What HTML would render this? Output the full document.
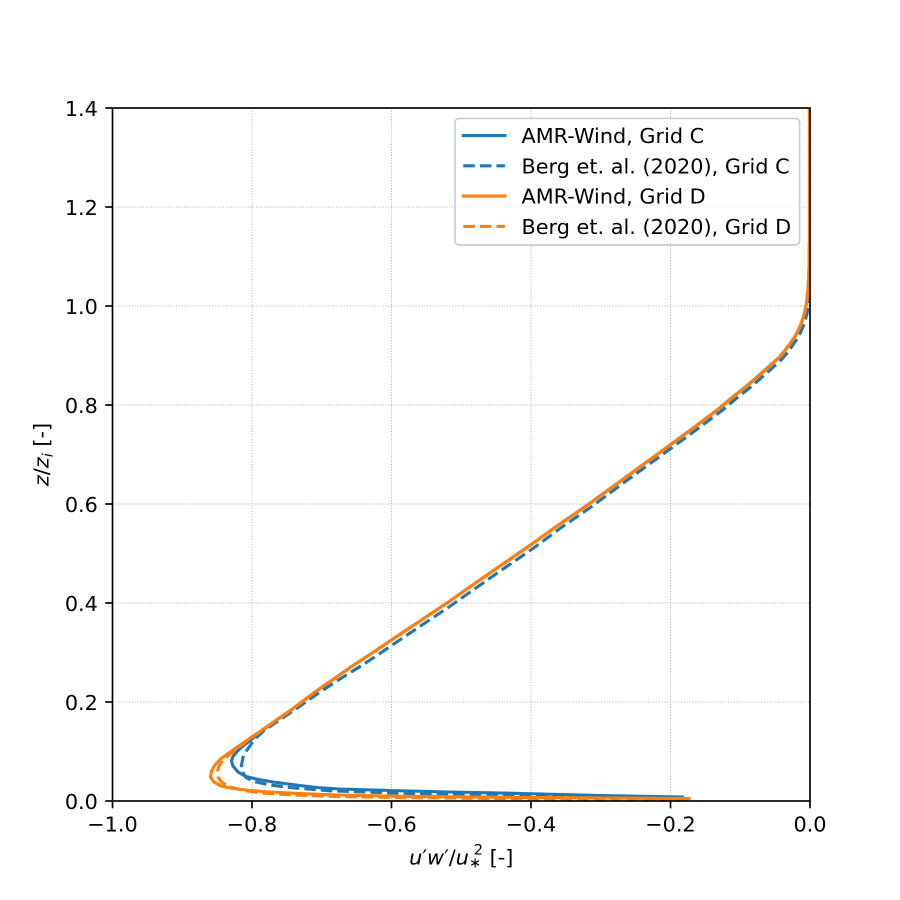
<!DOCTYPE html>
<html>
<head>
<meta charset="utf-8">
<style>
  html, body { margin: 0; padding: 0; background: #ffffff; }
  svg { display: block; }
  text { font-family: "DejaVu Sans", "Liberation Sans", sans-serif; fill: #000; }
</style>
</head>
<body>
<svg width="900" height="900" viewBox="0 0 900 900" xmlns="http://www.w3.org/2000/svg">
  <defs>
    <clipPath id="ax">
      <rect x="112.5" y="108" width="697.5" height="693"/>
    </clipPath>
  </defs>
  <rect x="0" y="0" width="900" height="900" fill="#ffffff"/>

  <!-- grid -->
  <g stroke="#b0b0b0" stroke-width="1.04" stroke-dasharray="1.04 1.72" fill="none">
    <line x1="252" y1="108" x2="252" y2="801"/>
    <line x1="391.5" y1="108" x2="391.5" y2="801"/>
    <line x1="531" y1="108" x2="531" y2="801"/>
    <line x1="670.5" y1="108" x2="670.5" y2="801"/>
    <line x1="112.5" y1="702" x2="810" y2="702"/>
    <line x1="112.5" y1="603" x2="810" y2="603"/>
    <line x1="112.5" y1="504" x2="810" y2="504"/>
    <line x1="112.5" y1="405" x2="810" y2="405"/>
    <line x1="112.5" y1="306" x2="810" y2="306"/>
    <line x1="112.5" y1="207" x2="810" y2="207"/>
  </g>

  <!-- series -->
  <g clip-path="url(#ax)" fill="none" stroke-width="3.125" stroke-linejoin="round">
    <!-- AMR-Wind, Grid C -->
    <polyline stroke="#1f77b4" stroke-linecap="square" points="682.5,797 600,795.5 523,793.5 450,792 390,790.5 340,789 317,787.5 300,785.5 273,782 256,779 246,776.5 238,772 233,766 231.5,761 233,756.5 237,751.5 243,746 250,740.5 261,731.5 275,721 289.5,711 300.5,703 318.5,689.5 334.5,678.5 351.5,666.5 368.5,655.5 385.5,644 415.5,624 445.5,604 488.5,574 530.5,545 558.5,525 587.5,505 618.5,482.5 653.5,457 688.5,431.5 708.5,416.5 718.5,409 731.5,398 748.5,384.5 765.5,369.5 779,357.5 785,350.5 789.8,344 794.3,337.5 798,331 801,324 803.2,317.5 804.8,312 805.8,307 806.9,300 807.7,293 808.3,285 808.8,275 809.2,262 809.5,240 809.5,90"/>
    <!-- Berg C -->
    <polyline stroke="#1f77b4" stroke-linecap="butt" stroke-dasharray="11.56 5" points="680,797.8 600,796.8 500,795.2 400,793.2 330,790.8 295,788 270,785 254,781.5 246,777.5 242.5,772 241.5,765 243,757.5 247,750 252,743 257,737 263,731.5 270,726.5 278,721 287,715 296,709 305,702.5 320,692 340,679 360,666.5 377,655.5 393,644.5 422,625 451,605.5 493,576 535,547 562,527 591,507 622,484 657,458.5 692,433 712,418 722,410.5 735,399.5 752,386 769,371 782,359 788,352 792.5,345.5 797,339 800.5,332.5 803.5,325.5 805.5,319 807,313.5 808,308 808.8,301 809.3,294 809.5,285 809.5,90"/>
    <!-- AMR-Wind, Grid D -->
    <polyline stroke="#ff7f0e" stroke-linecap="square" points="689,798.6 600,797.9 500,797.2 400,796.3 340,795.1 300,793.6 270,792 250,790.5 233,788.5 221,786 214,782 210.5,777 211.5,771 215,765 220.5,759 233,750 247.5,740 262,730 276.5,720 291,710 302,702 320,688.5 336,677.5 353,665.5 370,654.5 387,643 417,623 447,603 490,573 532,544 560,524 589,504 620,481.5 655,456 690,430.5 710,415.5 720,408 733,397 750,383.5 767,368.5 780,356.5 786,349.5 790.5,343 795,336.5 798.5,330 801.5,323 803.5,316.5 805,311 806,306 807,299.5 807.7,293 808.3,285 808.8,275 809.2,262 809.5,240 809.5,90"/>
    <!-- Berg D -->
    <polyline stroke="#ff7f0e" stroke-linecap="butt" stroke-dasharray="11.56 5" points="688,799.8 600,799.2 500,798.5 400,797.6 330,796.3 290,794.8 262,793 243,790.3 230,787 222,782.5 218,777 217.5,771 219.5,765 224,759 234,751 247,741 261,731 275.5,721 290,711 300.5,703 318.5,689.5 334.5,678.5 351.5,666.5 368.5,655.5 385.5,644 415.5,624 445.5,604 488.5,574 530.5,545 558.5,525 587.5,505 618.5,482.5 653.5,457 688.5,431.5 708.5,416.5 718.5,409 731.5,398 748.5,384.5 765.5,369.5 779,357.5 785,350.5 789.8,344 794.3,337.5 798,331 801,324 803.2,317.5 804.8,312 805.8,307 806.9,300 807.7,293 808.3,285 808.8,275 809.2,262 809.5,240 809.5,90"/>
  </g>

  <!-- spines -->
  <rect x="112.5" y="108" width="697.5" height="693" fill="none" stroke="#000" stroke-width="1.67" stroke-linejoin="miter"/>

  <!-- ticks -->
  <g stroke="#000" stroke-width="1.67">
    <line x1="112.5" y1="801" x2="112.5" y2="808.3"/>
    <line x1="252" y1="801" x2="252" y2="808.3"/>
    <line x1="391.5" y1="801" x2="391.5" y2="808.3"/>
    <line x1="531" y1="801" x2="531" y2="808.3"/>
    <line x1="670.5" y1="801" x2="670.5" y2="808.3"/>
    <line x1="810" y1="801" x2="810" y2="808.3"/>

    <line x1="105.2" y1="801" x2="112.5" y2="801"/>
    <line x1="105.2" y1="702" x2="112.5" y2="702"/>
    <line x1="105.2" y1="603" x2="112.5" y2="603"/>
    <line x1="105.2" y1="504" x2="112.5" y2="504"/>
    <line x1="105.2" y1="405" x2="112.5" y2="405"/>
    <line x1="105.2" y1="306" x2="112.5" y2="306"/>
    <line x1="105.2" y1="207" x2="112.5" y2="207"/>
    <line x1="105.2" y1="108" x2="112.5" y2="108"/>
  </g>

  <!-- x tick labels -->
  <g font-size="20.8" text-anchor="middle">
    <text x="112.5" y="831.4">−1.0</text>
    <text x="252" y="831.4">−0.8</text>
    <text x="391.5" y="831.4">−0.6</text>
    <text x="531" y="831.4">−0.4</text>
    <text x="670.5" y="831.4">−0.2</text>
    <text x="810" y="831.4">0.0</text>
  </g>

  <!-- y tick labels -->
  <g font-size="20.8" text-anchor="end">
    <text x="97.9" y="808.9">0.0</text>
    <text x="97.9" y="709.9">0.2</text>
    <text x="97.9" y="610.9">0.4</text>
    <text x="97.9" y="511.9">0.6</text>
    <text x="97.9" y="412.9">0.8</text>
    <text x="97.9" y="313.9">1.0</text>
    <text x="97.9" y="214.9">1.2</text>
    <text x="97.9" y="115.9">1.4</text>
  </g>

  <!-- axis labels -->
  <text x="461.25" y="864.5" font-size="20.8" text-anchor="middle"><tspan font-style="italic">u</tspan>′<tspan font-style="italic">w</tspan>′/<tspan font-style="italic">u</tspan><tspan font-size="14.6" dy="3">∗</tspan><tspan font-size="14.6" dx="-7.5" dy="-13">2</tspan><tspan dy="10"> [-]</tspan></text>

  <text transform="translate(48.5,454.5) rotate(-90)" font-size="20.8" text-anchor="middle"><tspan font-style="italic">z</tspan>/<tspan font-style="italic">z</tspan><tspan font-style="italic" font-size="14.6" dy="4">i</tspan><tspan dy="-4"> [-]</tspan></text>

  <!-- legend -->
  <rect x="455" y="118.4" width="344.6" height="126.6" rx="4" ry="4" fill="#ffffff" fill-opacity="0.8" stroke="#cccccc" stroke-width="1.67"/>
  <g fill="none" stroke-width="3.125">
    <line x1="463.3" y1="135.5" x2="504.9" y2="135.5" stroke="#1f77b4" stroke-linecap="square"/>
    <line x1="463.3" y1="165.8" x2="504.9" y2="165.8" stroke="#1f77b4" stroke-linecap="butt" stroke-dasharray="11.56 5"/>
    <line x1="463.3" y1="196.1" x2="504.9" y2="196.1" stroke="#ff7f0e" stroke-linecap="square"/>
    <line x1="463.3" y1="226.4" x2="504.9" y2="226.4" stroke="#ff7f0e" stroke-linecap="butt" stroke-dasharray="11.56 5"/>
  </g>
  <g font-size="20.8">
    <text x="521.5" y="143.1">AMR-Wind, Grid C</text>
    <text x="521.5" y="173.4">Berg et. al. (2020), Grid C</text>
    <text x="521.5" y="203.7">AMR-Wind, Grid D</text>
    <text x="521.5" y="234">Berg et. al. (2020), Grid D</text>
  </g>
</svg>
</body>
</html>
